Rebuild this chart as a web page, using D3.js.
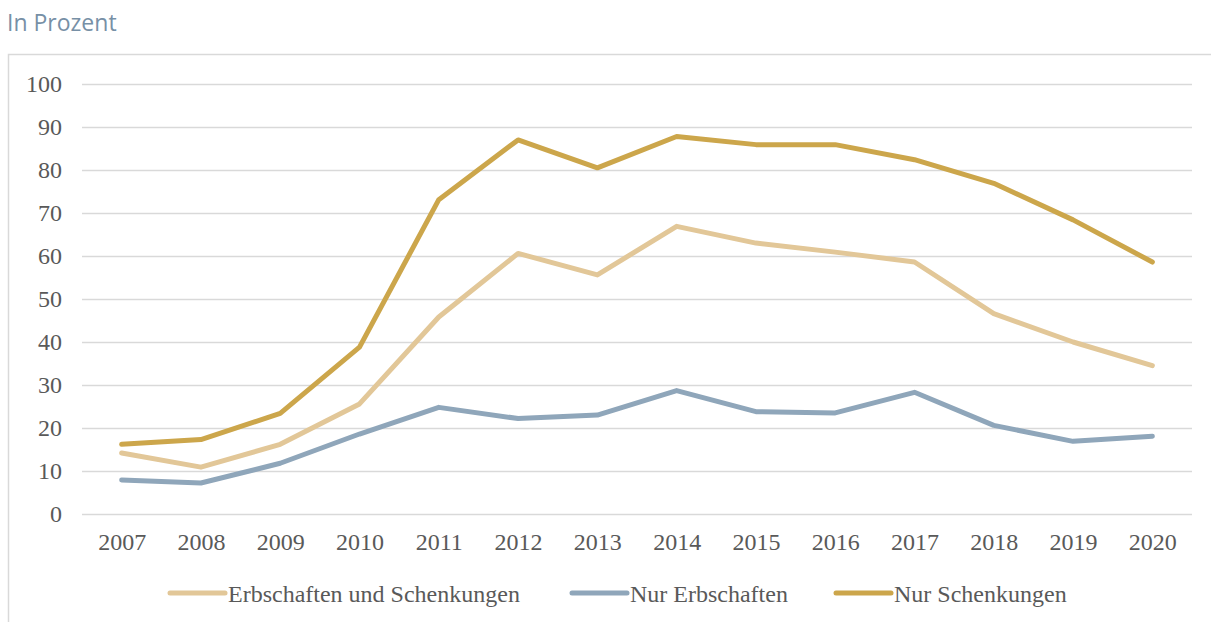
<!DOCTYPE html>
<html>
<head>
<meta charset="utf-8">
<script src="https://cdn.jsdelivr.net/npm/d3@7"></script>
<style>
  body { margin: 0; background: #fff; }
  svg { display: block; }
</style>
</head>
<body>
<div id="chart"></div>
<script>
var svgWidth = 1211;
var svgHeight = 622;

// data
var years = ["2007", "2008", "2009", "2010", "2011", "2012", "2013", "2014", "2015", "2016", "2017", "2018", "2019", "2020"];
var erbUndSchenk = [14.2, 10.9, 16.2, 25.6, 45.8, 60.6, 55.6, 66.9, 63.0, 60.9, 58.6, 46.6, 40.0, 34.5];
var nurErb = [7.9, 7.2, 11.8, 18.6, 24.8, 22.2, 23.0, 28.7, 23.8, 23.5, 28.3, 20.6, 16.9, 18.1];
var nurSchenk = [16.2, 17.3, 23.4, 38.8, 73.1, 87.0, 80.5, 87.8, 85.9, 85.9, 82.4, 76.9, 68.4, 58.6];
var yTicks = [0, 10, 20, 30, 40, 50, 60, 70, 80, 90, 100];
var seriesNames = ["Erbschaften und Schenkungen", "Nur Erbschaften", "Nur Schenkungen"];
var seriesColors = ["#e2c798", "#8fa6ba", "#cca64b"];

var series = [
    { name: seriesNames[0], values: erbUndSchenk, color: seriesColors[0] },
    { name: seriesNames[1], values: nurErb, color: seriesColors[1] },
    { name: seriesNames[2], values: nurSchenk, color: seriesColors[2] }
];

var margin = { top: 84, right: 19, bottom: 108, left: 82 };
var width = svgWidth - margin.left - margin.right;
var height = svgHeight - margin.top - margin.bottom;
var serif = "'Liberation Serif', 'Times New Roman', serif";

var svg = d3.select("#chart")
    .append("svg")
    .attr("width", svgWidth)
    .attr("height", svgHeight);

// title
svg.append("text")
    .attr("x", 7)
    .attr("y", 31)
    .attr("font-family", "'Open Sans', sans-serif")
    .attr("font-size", "23px")
    .attr("fill", "#7790a6")
    .text("In Prozent");

// frame
svg.append("path")
    .attr("d", "M8.5,622 V54.5 H1211")
    .attr("fill", "none")
    .attr("stroke", "#d9d9d9")
    .attr("stroke-width", 1.5);

var chartGroup = svg.append("g")
    .attr("transform", `translate(${margin.left},${margin.top})`);

var xScale = d3.scalePoint()
    .domain(years)
    .range([0, width])
    .padding(0.5);

var yScale = d3.scaleLinear()
    .domain([0, 100])
    .range([height, 0]);

// gridlines + y labels
var leftAxis = d3.axisLeft(yScale)
    .tickValues(yTicks)
    .tickSize(-width)
    .tickPadding(20);

var yAxis = chartGroup.append("g")
    .call(leftAxis);
yAxis.select(".domain").remove();
yAxis.selectAll(".tick line")
    .attr("stroke", "#d9d9d9")
    .attr("stroke-width", 1.5);
yAxis.selectAll(".tick text")
    .attr("font-family", serif)
    .attr("font-size", "24px")
    .attr("fill", "#595959");

// x labels
var bottomAxis = d3.axisBottom(xScale)
    .tickSize(0)
    .tickPadding(19);

var xAxis = chartGroup.append("g")
    .attr("transform", `translate(0,${height})`)
    .call(bottomAxis);
xAxis.select(".domain").remove();
xAxis.selectAll(".tick text")
    .attr("font-family", serif)
    .attr("font-size", "24px")
    .attr("fill", "#595959");

// lines
var line = d3.line()
    .x((d, i) => xScale(years[i]))
    .y(d => yScale(d));

chartGroup.selectAll(".series")
    .data(series)
    .enter()
    .append("path")
    .attr("class", "series")
    .attr("d", d => line(d.values))
    .attr("fill", "none")
    .attr("stroke", d => d.color)
    .attr("stroke-width", 5)
    .attr("stroke-linecap", "round")
    .attr("stroke-linejoin", "round");

// legend
var legendX = [170, 572, 836];
var legendGroup = svg.append("g")
    .attr("transform", "translate(0,593)");

var legendItems = legendGroup.selectAll(".legend-item")
    .data(series)
    .enter()
    .append("g")
    .attr("class", "legend-item")
    .attr("transform", (d, i) => `translate(${legendX[i]},0)`);

legendItems.append("line")
    .attr("x1", 0)
    .attr("x2", 55)
    .attr("y1", 0)
    .attr("y2", 0)
    .attr("stroke", d => d.color)
    .attr("stroke-width", 5)
    .attr("stroke-linecap", "round");

legendItems.append("text")
    .attr("x", 58)
    .attr("y", 8.5)
    .attr("font-family", serif)
    .attr("font-size", "24px")
    .attr("fill", "#595959")
    .text(d => d.name);
</script>
</body>
</html>
